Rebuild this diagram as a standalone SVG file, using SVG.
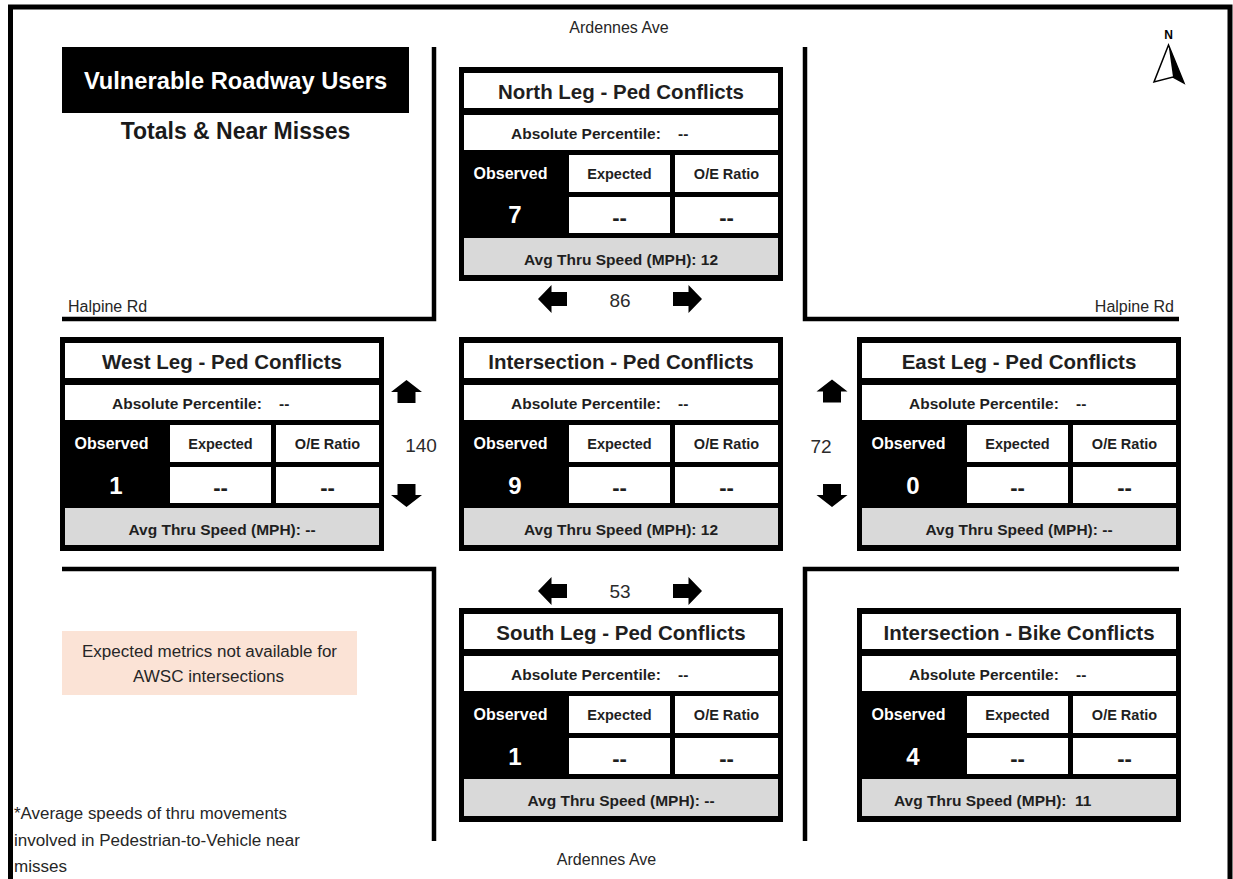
<svg xmlns="http://www.w3.org/2000/svg" width="1233" height="879" viewBox="0 0 1233 879">
<style>
.bx{fill:#000}
.cw{fill:#fff}
.cg{fill:#d9d9d9}
.road{fill:none;stroke:#000;stroke-width:4.5;stroke-linejoin:miter}
.tt{font-family:"Liberation Sans",Arial,sans-serif;font-weight:700;font-size:20.5px;fill:#1f1f1f;text-anchor:middle}
.pc{font-family:"Liberation Sans",Arial,sans-serif;font-weight:700;font-size:15.5px;fill:#1f1f1f}
.hd{font-family:"Liberation Sans",Arial,sans-serif;font-weight:700;font-size:14.5px;fill:#1f1f1f;text-anchor:middle}
.ob{font-family:"Liberation Sans",Arial,sans-serif;font-weight:700;font-size:16px;fill:#fff;text-anchor:middle}
.nv{font-family:"Liberation Sans",Arial,sans-serif;font-weight:700;font-size:24px;fill:#fff;text-anchor:middle}
.dd{font-family:"Liberation Sans",Arial,sans-serif;font-weight:700;font-size:22px;fill:#1f1f1f;text-anchor:middle}
.sp{font-family:"Liberation Sans",Arial,sans-serif;font-weight:700;font-size:15.5px;fill:#1f1f1f;text-anchor:middle}
.sps{font-family:"Liberation Sans",Arial,sans-serif;font-weight:700;font-size:15.5px;fill:#1f1f1f}
.lbl{font-family:"Liberation Sans",Arial,sans-serif;font-size:16px;fill:#262626}
.num{font-family:"Liberation Sans",Arial,sans-serif;font-size:19px;fill:#2b2b2b;text-anchor:middle}
.arr{fill:#000}
</style>
<defs>
<path id="al" d="M-14.5 0 L-1 -14 V-7 H14.5 V7 H-1 V14 Z"/>
<path id="au" d="M0 -12 L15.5 0 H9 V11 H-9 V0 H-15.5 Z"/>
</defs>

<g id="frame">
<path d="M10.5 879 V7 H1230 V879" fill="none" stroke="#000" stroke-width="5"/>
</g>

<g id="roads">
<path class="road" d="M434 47 V319 H62"/>
<path class="road" d="M805 47 V319 H1179"/>
<path class="road" d="M62 569 H434 V841"/>
<path class="road" d="M1179 569 H805 V841"/>
</g>

<g id="street-labels">
<text class="lbl" x="619" y="33" text-anchor="middle">Ardennes Ave</text>
<text class="lbl" x="606.5" y="865" text-anchor="middle">Ardennes Ave</text>
<text class="lbl" x="68" y="312">Halpine Rd</text>
<text class="lbl" x="1174" y="312" text-anchor="end">Halpine Rd</text>
</g>

<g id="title">
<rect x="62" y="47" width="347" height="66" fill="#000"/>
<text x="235.5" y="89" text-anchor="middle" font-family="Liberation Sans, Arial, sans-serif" font-weight="700" font-size="23.7" fill="#fff">Vulnerable Roadway Users</text>
<text x="235.5" y="139" text-anchor="middle" font-family="Liberation Sans, Arial, sans-serif" font-weight="700" font-size="23" fill="#1a1a1a">Totals &amp; Near Misses</text>
</g>

<g id="north-arrow">
<text x="1168.5" y="39" text-anchor="middle" font-family="Liberation Sans, Arial, sans-serif" font-weight="700" font-size="12" fill="#000">N</text>
<path d="M1168.5 45 L1154 82 L1173 77 L1184 83 Z" fill="#fff" stroke="#000" stroke-width="1.5" stroke-linejoin="miter"/>
<path d="M1168.5 45 L1173 77 L1184 83 Z" fill="#000"/>
</g>

<g id="node-north" transform="translate(459,67)">
<rect class="bx" width="324" height="214"/>
<rect class="cw" x="5" y="6" width="314" height="35"/>
<text class="tt" x="162" y="31.5">North Leg - Ped Conflicts</text>
<rect class="cw" x="5" y="48" width="314" height="35"/>
<text class="pc" x="52" y="71.5">Absolute Percentile:</text>
<text class="pc" x="219" y="71.5">--</text>
<text class="ob" x="51.5" y="112">Observed</text>
<rect class="cw" x="110" y="88" width="101" height="37"/>
<text class="hd" x="160.5" y="112">Expected</text>
<rect class="cw" x="216" y="88" width="103" height="37"/>
<text class="hd" x="267.5" y="112">O/E Ratio</text>
<text class="nv" x="56" y="156">7</text>
<rect class="cw" x="110" y="130" width="101" height="36"/>
<text class="dd" x="160.5" y="158">--</text>
<rect class="cw" x="216" y="130" width="103" height="36"/>
<text class="dd" x="267.5" y="158">--</text>
<rect class="cg" x="5" y="171" width="314" height="37"/>
<text class="sp" x="162" y="197.5">Avg Thru Speed (MPH): 12</text>
</g>

<g id="node-west" transform="translate(60,337)">
<rect class="bx" width="324" height="214"/>
<rect class="cw" x="5" y="6" width="314" height="35"/>
<text class="tt" x="162" y="31.5">West Leg - Ped Conflicts</text>
<rect class="cw" x="5" y="48" width="314" height="35"/>
<text class="pc" x="52" y="71.5">Absolute Percentile:</text>
<text class="pc" x="219" y="71.5">--</text>
<text class="ob" x="51.5" y="112">Observed</text>
<rect class="cw" x="110" y="88" width="101" height="37"/>
<text class="hd" x="160.5" y="112">Expected</text>
<rect class="cw" x="216" y="88" width="103" height="37"/>
<text class="hd" x="267.5" y="112">O/E Ratio</text>
<text class="nv" x="56" y="157">1</text>
<rect class="cw" x="110" y="130" width="101" height="36"/>
<text class="dd" x="160.5" y="158">--</text>
<rect class="cw" x="216" y="130" width="103" height="36"/>
<text class="dd" x="267.5" y="158">--</text>
<rect class="cg" x="5" y="171" width="314" height="37"/>
<text class="sp" x="162" y="197.5">Avg Thru Speed (MPH): --</text>
</g>

<g id="node-intersection-ped" transform="translate(459,337)">
<rect class="bx" width="324" height="214"/>
<rect class="cw" x="5" y="6" width="314" height="35"/>
<text class="tt" x="162" y="31.5">Intersection - Ped Conflicts</text>
<rect class="cw" x="5" y="48" width="314" height="35"/>
<text class="pc" x="52" y="71.5">Absolute Percentile:</text>
<text class="pc" x="219" y="71.5">--</text>
<text class="ob" x="51.5" y="112">Observed</text>
<rect class="cw" x="110" y="88" width="101" height="37"/>
<text class="hd" x="160.5" y="112">Expected</text>
<rect class="cw" x="216" y="88" width="103" height="37"/>
<text class="hd" x="267.5" y="112">O/E Ratio</text>
<text class="nv" x="56" y="157">9</text>
<rect class="cw" x="110" y="130" width="101" height="36"/>
<text class="dd" x="160.5" y="158">--</text>
<rect class="cw" x="216" y="130" width="103" height="36"/>
<text class="dd" x="267.5" y="158">--</text>
<rect class="cg" x="5" y="171" width="314" height="37"/>
<text class="sp" x="162" y="197.5">Avg Thru Speed (MPH): 12</text>
</g>

<g id="node-east" transform="translate(857,337)">
<rect class="bx" width="324" height="214"/>
<rect class="cw" x="5" y="6" width="314" height="35"/>
<text class="tt" x="162" y="31.5">East Leg - Ped Conflicts</text>
<rect class="cw" x="5" y="48" width="314" height="35"/>
<text class="pc" x="52" y="71.5">Absolute Percentile:</text>
<text class="pc" x="219" y="71.5">--</text>
<text class="ob" x="51.5" y="112">Observed</text>
<rect class="cw" x="110" y="88" width="101" height="37"/>
<text class="hd" x="160.5" y="112">Expected</text>
<rect class="cw" x="216" y="88" width="103" height="37"/>
<text class="hd" x="267.5" y="112">O/E Ratio</text>
<text class="nv" x="56" y="157">0</text>
<rect class="cw" x="110" y="130" width="101" height="36"/>
<text class="dd" x="160.5" y="158">--</text>
<rect class="cw" x="216" y="130" width="103" height="36"/>
<text class="dd" x="267.5" y="158">--</text>
<rect class="cg" x="5" y="171" width="314" height="37"/>
<text class="sp" x="162" y="197.5">Avg Thru Speed (MPH): --</text>
</g>

<g id="node-south" transform="translate(459,608)">
<rect class="bx" width="324" height="214"/>
<rect class="cw" x="5" y="6" width="314" height="35"/>
<text class="tt" x="162" y="31.5">South Leg - Ped Conflicts</text>
<rect class="cw" x="5" y="48" width="314" height="35"/>
<text class="pc" x="52" y="71.5">Absolute Percentile:</text>
<text class="pc" x="219" y="71.5">--</text>
<text class="ob" x="51.5" y="112">Observed</text>
<rect class="cw" x="110" y="88" width="101" height="37"/>
<text class="hd" x="160.5" y="112">Expected</text>
<rect class="cw" x="216" y="88" width="103" height="37"/>
<text class="hd" x="267.5" y="112">O/E Ratio</text>
<text class="nv" x="56" y="157">1</text>
<rect class="cw" x="110" y="130" width="101" height="36"/>
<text class="dd" x="160.5" y="158">--</text>
<rect class="cw" x="216" y="130" width="103" height="36"/>
<text class="dd" x="267.5" y="158">--</text>
<rect class="cg" x="5" y="171" width="314" height="37"/>
<text class="sp" x="162" y="197.5">Avg Thru Speed (MPH): --</text>
</g>

<g id="node-intersection-bike" transform="translate(857,608)">
<rect class="bx" width="324" height="214"/>
<rect class="cw" x="5" y="6" width="314" height="35"/>
<text class="tt" x="162" y="31.5">Intersection - Bike Conflicts</text>
<rect class="cw" x="5" y="48" width="314" height="35"/>
<text class="pc" x="52" y="71.5">Absolute Percentile:</text>
<text class="pc" x="219" y="71.5">--</text>
<text class="ob" x="51.5" y="112">Observed</text>
<rect class="cw" x="110" y="88" width="101" height="37"/>
<text class="hd" x="160.5" y="112">Expected</text>
<rect class="cw" x="216" y="88" width="103" height="37"/>
<text class="hd" x="267.5" y="112">O/E Ratio</text>
<text class="nv" x="56" y="157">4</text>
<rect class="cw" x="110" y="130" width="101" height="36"/>
<text class="dd" x="160.5" y="158">--</text>
<rect class="cw" x="216" y="130" width="103" height="36"/>
<text class="dd" x="267.5" y="158">--</text>
<rect class="cg" x="5" y="171" width="314" height="37"/>
<text class="sps" x="37" y="197.5">Avg Thru Speed (MPH):</text>
<text class="sps" x="218" y="197.5">11</text>
</g>

<g id="connectors">
<use href="#al" class="arr" transform="translate(552.5,299)"/>
<use href="#al" class="arr" transform="translate(687.5,299) scale(-1,1)"/>
<text class="num" x="620" y="307">86</text>
<use href="#al" class="arr" transform="translate(552.5,591)"/>
<use href="#al" class="arr" transform="translate(687.5,591) scale(-1,1)"/>
<text class="num" x="620" y="598">53</text>
<use href="#au" class="arr" transform="translate(406.5,392)"/>
<use href="#au" class="arr" transform="translate(406.5,495) scale(1,-1)"/>
<text class="num" x="421" y="452">140</text>
<use href="#au" class="arr" transform="translate(832,391.5)"/>
<use href="#au" class="arr" transform="translate(832,495) scale(1,-1)"/>
<text class="num" x="821" y="453">72</text>
</g>

<g id="note">
<rect x="62" y="631" width="295" height="64" fill="#fbe3d6"/>
<text class="lbl" x="209.5" y="657" text-anchor="middle" font-size="16.5" textLength="255" lengthAdjust="spacingAndGlyphs">Expected metrics not available for</text>
<text class="lbl" x="208.5" y="682" text-anchor="middle" font-size="16.5" textLength="151" lengthAdjust="spacingAndGlyphs">AWSC intersections</text>
</g>

<g id="footnote">
<text class="lbl" x="14" y="819" font-size="16.5" textLength="273" lengthAdjust="spacingAndGlyphs">*Average speeds of thru movements</text>
<text class="lbl" x="14" y="846" font-size="16.5" textLength="286" lengthAdjust="spacingAndGlyphs">involved in Pedestrian-to-Vehicle near</text>
<text class="lbl" x="14" y="872" font-size="16.5" textLength="53" lengthAdjust="spacingAndGlyphs">misses</text>
</g>
</svg>
